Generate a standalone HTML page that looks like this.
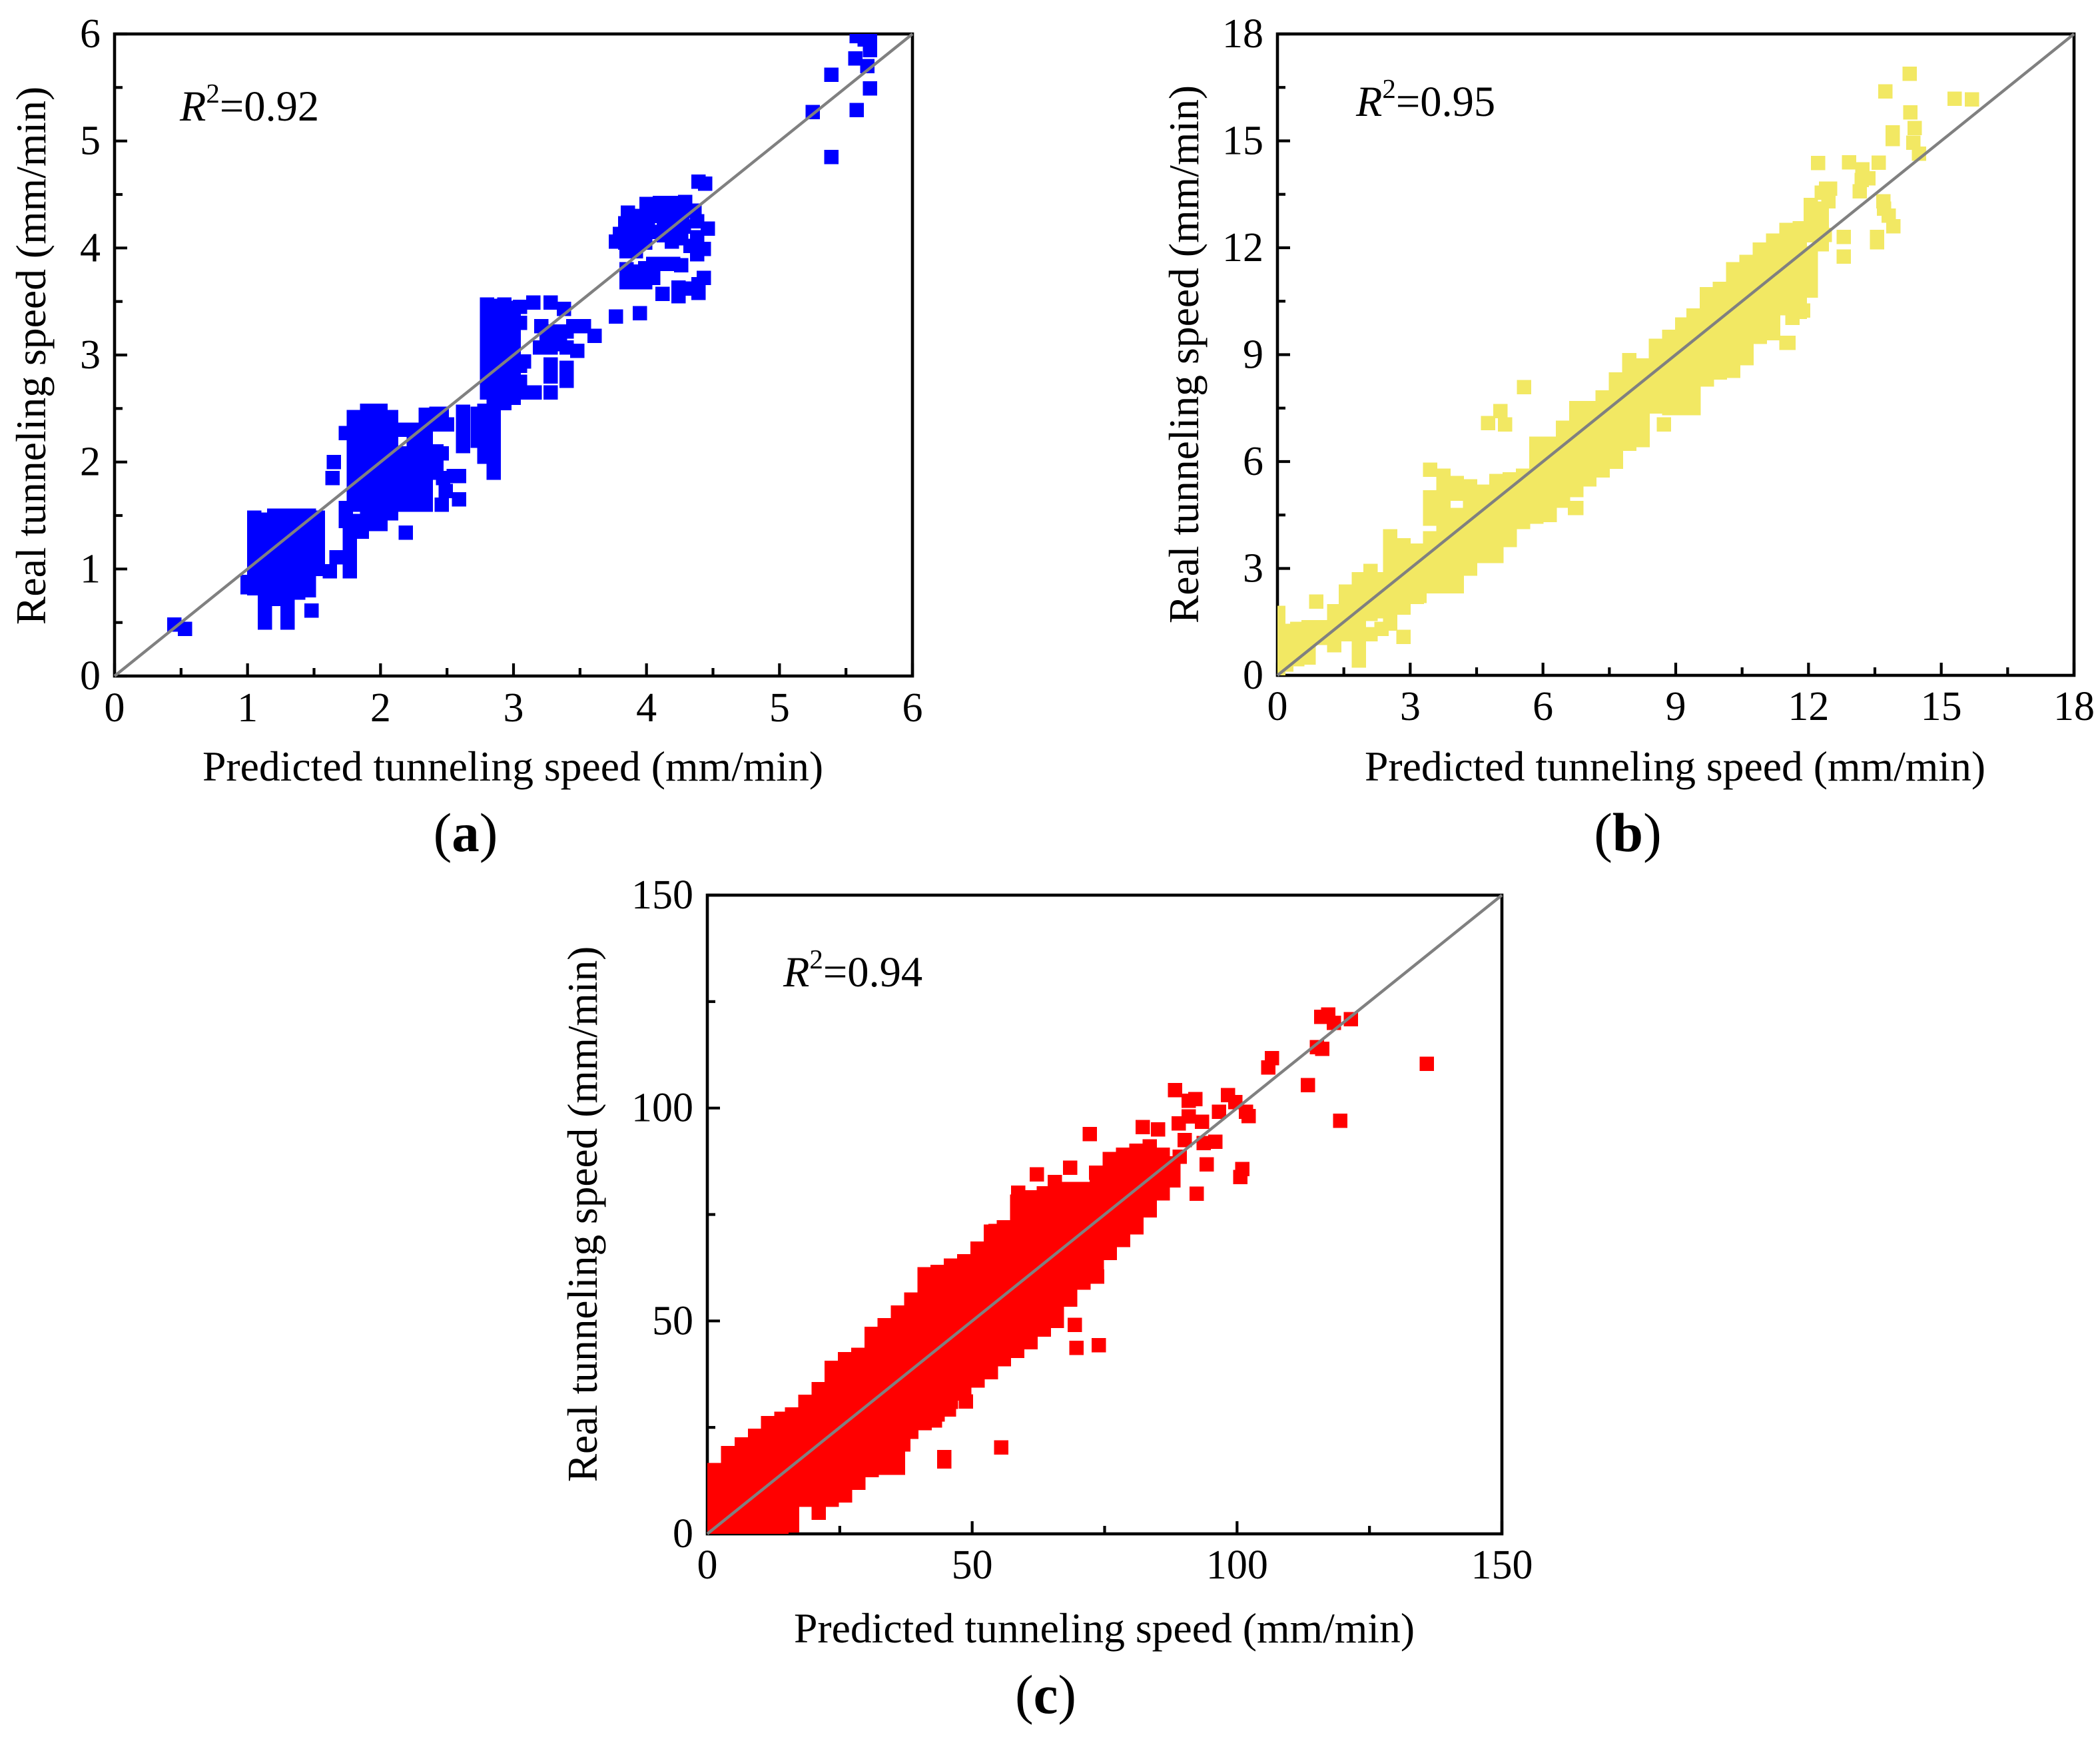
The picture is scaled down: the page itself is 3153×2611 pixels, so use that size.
<!DOCTYPE html>
<html lang="en">
<head>
<meta charset="utf-8">
<title>Predicted vs real tunneling speed</title>
<style>
html,body{margin:0;padding:0;background:#fff}
svg{display:block}
text{font-family:"Liberation Serif","Times New Roman",serif;fill:#000}
</style>
</head>
<body>
<svg xmlns="http://www.w3.org/2000/svg" width="3153" height="2611" viewBox="0 0 3153 2611">
<rect x="0" y="0" width="3153" height="2611" fill="#fff"/>
<defs>
<clipPath id="clip-a"><rect x="172" y="51" width="1198" height="964"/></clipPath>
<clipPath id="clip-b"><rect x="1918" y="51" width="1196" height="963"/></clipPath>
<clipPath id="clip-c"><rect x="1062" y="1344" width="1193" height="959"/></clipPath>
</defs>

<g id="panel-a"></g>
<g id="panel-b"></g>
<g id="panel-c"></g>

<text x="68" y="534" font-size="63.7" text-anchor="middle" transform="rotate(-90 68 534)">Real tunneling speed (mm/min)</text>
<text x="770" y="1172" font-size="63.7" text-anchor="middle">Predicted tunneling speed (mm/min)</text>
<text x="270" y="181" font-size="64.5"><tspan font-style="italic">R</tspan><tspan dy="-27" font-size="41">2</tspan><tspan dy="27">=0.92</tspan></text>
<text x="699" y="1278" font-size="83" text-anchor="middle">(<tspan font-weight="bold">a</tspan>)</text>

<text x="1799" y="532" font-size="63.7" text-anchor="middle" transform="rotate(-90 1799 532)">Real tunneling speed (mm/min)</text>
<text x="2515" y="1172" font-size="63.7" text-anchor="middle">Predicted tunneling speed (mm/min)</text>
<text x="2036" y="174" font-size="64.5"><tspan font-style="italic">R</tspan><tspan dy="-27" font-size="41">2</tspan><tspan dy="27">=0.95</tspan></text>
<text x="2444" y="1278" font-size="83" text-anchor="middle">(<tspan font-weight="bold">b</tspan>)</text>

<text x="896" y="1823" font-size="63.4" text-anchor="middle" transform="rotate(-90 896 1823)">Real tunneling speed (mm/min)</text>
<text x="1658" y="2466" font-size="63.7" text-anchor="middle">Predicted tunneling speed (mm/min)</text>
<text x="1176" y="1481" font-size="64.5"><tspan font-style="italic">R</tspan><tspan dy="-27" font-size="41">2</tspan><tspan dy="27">=0.94</tspan></text>
<text x="1570" y="2572" font-size="83" text-anchor="middle">(<tspan font-weight="bold">c</tspan>)</text>
</svg>

<script>
// ---------- Panel (a): tick values ----------
const majorTicksA = [0, 1, 2, 3, 4, 5, 6];
const minorTicksA = [0.5, 1.5, 2.5, 3.5, 4.5, 5.5];
const domainA = [0, 6];
const fitLineA = [0, 6];
// Panel (a): clusters, as [predicted, [real, real, ...]]
const columnsA = [
  [1.0,[0.83,0.88]],
  [1.05,[0.82,0.95,1.07,1.19,1.31,1.43,1.48]],
  [1.13,[0.5,0.62,0.74,0.86,0.98,1.1,1.22,1.34,1.46]],
  [1.2,[0.72,0.84,0.96,1.08,1.2,1.32,1.44,1.5]],
  [1.3,[0.5,0.62,0.74,0.86,0.98,1.1,1.22,1.34,1.46,1.5]],
  [1.38,[0.78,0.9,1.02,1.14,1.26,1.38,1.5]],
  [1.46,[0.8,0.92,1.04,1.16,1.28,1.4,1.5]],
  [1.53,[1.0,1.12,1.24,1.36,1.48]],
  [1.74,[1.45,1.57,2.27]],
  [1.77,[0.98,1.08,1.2,1.32]],
  [1.8,[1.45,1.6,1.7,1.82,1.94,2.06,2.18,2.3,2.42]],
  [1.86,[1.35]],
  [1.9,[1.42,1.54,1.66,1.78,1.9,2.02,2.14,2.26,2.38,2.48]],
  [2.0,[1.42,1.54,1.66,1.78,1.9,2.02,2.14,2.26,2.38,2.48]],
  [2.08,[1.52,1.64,1.76,1.88,2.0,2.12,2.24,2.36,2.42]],
  [2.16,[1.6,1.72,1.84,1.96,2.08,2.3]],
  [2.25,[1.6,1.72,1.84,1.96,2.08,2.2,2.3]],
  [2.34,[1.6,1.72,1.84,1.96,2.08,2.2,2.32,2.44]],
  [2.42,[1.9,2.02,2.1,2.35,2.45]],
  [2.62,[2.15,2.28,2.4,2.47]],
  [2.73,[2.2,2.32,2.45]],
  [2.78,[2.05,2.17,2.29,2.41,2.48]],
  [2.8,[2.65,2.77,2.9,3.02,3.14,3.25,3.37,3.47]],
  [2.85,[1.9,2.02,2.14,2.26,2.38,2.5,2.62,2.74,2.86,2.98,3.1,3.22,3.34,3.46]],
  [2.93,[2.55,2.67,2.79,2.91,3.03,3.15,3.27,3.39,3.47]],
  [3.0,[2.6,2.72,2.84,2.96,3.08,3.2,3.32,3.44]],
  [3.05,[2.65,2.75,2.9,3.3,3.45]]
];
const scatterA = [
  [0.45,0.48],[0.53,0.44],[1.48,0.61],[1.62,0.98],[1.65,2.0],[1.64,1.85],[1.67,1.11],[2.19,1.34],
  [2.46,1.6],[2.49,1.73],[2.59,1.65],[2.47,1.85],[2.55,1.87],[2.59,1.87],[2.46,2.08],[2.5,2.35],[2.46,2.45],
  [3.08,2.94],[3.15,3.49],[3.13,2.65],[3.28,3.49],[3.38,3.43],[3.21,3.27],[3.31,3.22],[3.4,3.22],[3.2,3.07],
  [3.28,3.07],[3.4,3.07],[3.48,3.04],[3.53,3.27],[3.45,3.27],[3.61,3.18],[3.28,2.91],[3.28,2.8],[3.28,2.65],
  [3.4,2.76],[3.4,2.88],[3.25,3.2],[3.35,3.1],[3.16,2.65],
  [3.77,3.36],[3.95,3.39],[4.12,3.57],[4.24,3.63],[4.24,3.55],[4.39,3.66],[4.39,3.58],[4.43,3.72],
  [3.85,3.68],[3.92,3.68],[3.99,3.68],[3.99,3.81],[3.92,3.78],[4.12,3.85],[4.2,3.85],[4.26,3.84],
  [3.88,3.75],[3.95,3.75],[4.05,3.72],[4.05,3.85],[3.85,3.8],
  [4.38,3.94],[4.43,3.99],[3.77,4.06],[3.84,4.23],[3.84,4.05],[3.93,4.05],[3.93,4.2],[3.86,4.33],[3.85,3.97],
  [3.99,4.05],[4.01,4.19],[4.0,4.41],[4.0,4.3],[4.13,4.38],[4.13,4.25],[4.21,4.3],[4.29,4.43],[4.19,4.06],
  [3.85,4.12],[3.92,4.12],[3.92,4.3],[3.99,4.12],[3.99,4.25],[4.07,4.15],[4.07,4.3],[3.8,4.13],[3.92,3.97],
  [4.1,4.42],[4.2,4.42],[4.2,4.18],[4.27,4.3],[4.13,4.12],[4.26,4.2],[4.33,4.02],[4.36,4.35],[4.3,3.62],
  [4.26,4.09],[4.28,4.2],[4.38,4.1],[4.38,4.25],[4.46,4.18],[4.39,4.62],[4.44,4.6],
  [5.39,5.62],[5.25,5.27],[5.39,4.85],[5.58,5.29],[5.68,5.49],[5.57,5.77],[5.66,5.7],[5.68,5.85],[5.68,5.94],[5.58,5.98],[5.64,5.95]
];

// ---------- Panel (b): tick values ----------
const majorTicksB = [0, 3, 6, 9, 12, 15, 18];
const minorTicksB = [1.5, 4.5, 7.5, 10.5, 13.5, 16.5];
const domainB = [0, 18];
const fitLineB = [0, 18];
const columnsB = [
  [0.02,[0.2,0.5,0.85,1.2,1.5,1.75]],
  [0.2,[0.3,0.65,1.0,1.25]],
  [0.45,[0.45,0.8,1.15,1.3]],
  [0.7,[0.5,0.85,1.2,1.35]],
  [1.0,[1.05,1.35]],
  [1.28,[0.85,1.15,1.45,1.8]],
  [1.55,[1.15,1.5,1.85,2.2,2.35]],
  [1.84,[0.42,0.75,1.1,1.45,1.8,2.15,2.5,2.7]],
  [2.1,[1.15,1.72,2.05,2.4,2.75,2.93]],
  [2.35,[1.3,1.8,2.1,2.45,2.7]],
  [2.55,[1.45,1.8,2.15,2.5,2.85,3.2,3.55,3.9]],
  [2.85,[1.08,1.9,2.25,2.6,2.95,3.3,3.65]],
  [3.15,[2.2,2.55,2.9,3.25,3.5]],
  [3.45,[2.5,2.85,3.2,3.55,3.85,4.4,4.75,5.0,5.77]],
  [3.75,[2.5,2.85,3.2,3.55,3.9,4.25,4.6,5.0,5.35,5.6]],
  [4.05,[2.5,2.85,3.2,3.55,3.9,4.25,4.5,5.1,5.4]],
  [4.35,[3.0,3.3,3.65,4.0,4.35,4.6,5.0,5.3]],
  [4.65,[3.35,3.7,4.05,4.4,4.75,5.15]],
  [4.95,[3.35,3.7,4.05,4.4,4.75,5.1,5.45]],
  [5.25,[3.8,4.15,4.5,4.85,5.2,5.5]],
  [5.55,[4.3,4.65,5.0,5.35,5.6]],
  [5.85,[4.45,4.8,5.15,5.5,5.85,6.2,6.5]],
  [6.15,[4.5,4.85,5.2,5.55,5.9,6.25,6.5]],
  [6.45,[4.9,5.25,5.6,5.95,6.3,6.65,6.95]],
  [6.75,[4.7,5.2,5.55,5.9,6.25,6.6,6.95,7.3,7.5]],
  [7.05,[5.5,5.85,6.2,6.55,6.9,7.25,7.5]],
  [7.35,[5.75,6.1,6.45,6.8,7.15,7.5,7.8]],
  [7.65,[6.0,6.35,6.7,7.05,7.4,7.75,8.1,8.3]],
  [7.95,[6.5,6.85,7.2,7.55,7.9,8.25,8.6,8.85]],
  [8.25,[6.6,6.95,7.3,7.65,8.0,8.35,8.7]],
  [8.55,[7.55,7.9,8.25,8.6,8.95,9.25]],
  [8.85,[7.5,7.85,8.2,8.55,8.9,9.25,9.5]],
  [9.15,[7.5,7.85,8.2,8.55,8.9,9.25,9.6,9.85]],
  [9.4,[7.5,7.85,8.1,8.5,8.85,9.2,9.55,9.9,10.1]],
  [9.7,[8.3,8.65,9.0,9.35,9.7,10.05,10.4,10.7]],
  [10.0,[8.5,8.85,9.2,9.55,9.9,10.25,10.6,10.85]],
  [10.3,[8.55,8.9,9.25,9.6,9.95,10.3,10.65,11.0,11.4]],
  [10.6,[8.9,9.25,9.6,9.95,10.3,10.65,11.0,11.35,11.6]],
  [10.9,[9.5,9.85,10.2,10.55,10.9,11.25,11.6,11.95]],
  [11.2,[9.6,9.95,10.3,10.65,11.0,11.35,11.7,12.05,12.2]],
  [11.5,[9.33,10.3,10.65,11.0,11.35,11.7,12.05,12.4,12.5]],
  [11.8,[10.2,10.55,10.9,11.25,11.6,11.95,12.3,12.55]],
  [12.05,[10.8,11.15,11.5,11.85,12.35,12.7,13.05,13.2]],
  [12.3,[12.1,12.4,12.75,13.1,13.55]]
];
const scatterB = [
  [0.88,2.07],[0.59,0.52],[3.21,2.23],[6.72,4.7],[5.57,8.09],[5.04,7.42],[4.76,7.08],[5.14,7.04],[8.73,7.04],[11.55,9.33],
  [11.64,10.03],[11.88,10.24],[12.4,13.66],[12.49,13.66],[12.45,13.3],[12.22,14.38],[12.92,14.4],[13.59,14.39],
  [13.22,14.2],[13.35,13.95],[13.16,13.58],[13.2,13.9],[13.69,13.3],[13.71,13.1],[13.81,12.9],[13.92,12.6],[13.55,12.3],[13.55,12.15],
  [12.8,12.3],[12.8,11.75],[12.37,12.36],[12.25,12.1],[14.29,16.88],[13.74,16.39],[15.3,16.18],[15.69,16.16],[14.3,15.8],
  [14.4,15.36],[13.9,15.24],[13.9,15.05],[14.37,14.95],[14.5,14.64]
];

// ---------- Panel (c): tick values ----------
const majorTicksC = [0, 50, 100, 150];
const minorTicksC = [25, 75, 125];
const domainC = [0, 150];
const fitLineC = [0, 150];
const columnsC = [
  [1.3,[1,4,7,10,13,15]],
  [3.9,[1,4,7,10,13,16,19]],
  [6.5,[1,4,7,10,13,16,19,21]],
  [9,[1,4,7,10,13,16,19,22,23]],
  [11.5,[1,4,7,10,13,16,19,22,25,26]],
  [14,[1,4,7,10,13,16,19,22,25,27]],
  [16,[2,5,8,11,14,17,20,23,26,28]],
  [18.5,[8,11,14,17,20,23,26,29,31]],
  [21,[5,8,11,14,17,20,23,26,29,32,34]],
  [23.5,[8,11,14,17,20,23,26,29,32,35,38,39]],
  [26,[9,12,15,18,21,24,27,30,33,36,39,41]],
  [28.5,[12,15,18,21,24,27,30,33,36,39,42]],
  [31,[15,18,21,24,27,30,33,36,39,42,45,47]],
  [33.5,[15.5,18.5,21.5,24.5,27.5,30.5,33.5,36.5,39.5,42.5,45.5,48.5,49]],
  [36,[15.5,18.5,21.5,24.5,27.5,30.5,33.5,36.5,39.5,42.5,45.5,48.5,51.5,52]],
  [38.5,[24,27,30,33,36,39,42,45,48,51,54,55]],
  [41,[26,29,32,35,38,41,44,47,50,53,56,59,61]],
  [43.5,[28,31,34,37,40,43,46,49,52,55,58,61,61.5]],
  [46,[31,34,37,40,43,46,49,52,55,58,61,63]],
  [48.5,[33,36,39,42,45,48,51,54,57,60,63,64]],
  [51,[36,39,42,45,48,51,54,57,60,63,66,67]],
  [53.5,[38,41,44,47,50,53,56,59,62,65,68,71]],
  [56,[41,44,47,50,53,56,59,62,65,68,71,72]],
  [58.5,[43,46,49,52,55,58,61,64,67,70,73,76,78]],
  [61,[45,48,51,54,57,60,63,66,69,72,75,78,79]],
  [63.5,[48,51,54,57,60,63,66,69,72,75,78,80]],
  [66,[50,53,56,59,62,65,68,71,74,77,80,81]],
  [68.5,[55,58,61,64,67,70,73,76,79,81]],
  [71,[59,62,65,68,71,74,77,80,81]],
  [73.5,[62,65,68,71,74,77,80,83]],
  [76,[66,69,72,75,78,81,84,87,88]],
  [78.5,[69,72,75,78,81,84,87,89]],
  [81,[72,75,78,81,84,87,90]],
  [83.5,[76,79,82,85,88,91]],
  [86,[80,83,86,89]],
  [88,[83,85,87]]
];
const scatterC = [
  [135.8,110.4],[121.5,120.9],[117.2,122],[115.9,121.4],[118.3,120],[115.1,114.3],[116.1,113.9],[106.6,111.7],[105.9,109.5],
  [113.4,105.4],[119.5,97],[88.3,104.2],[90.9,101.7],[92.1,102.1],[98.3,103],[99.7,101.4],[96.6,99.1],[101.7,99.1],[102.2,98.1],
  [90.9,98],[93.4,96.8],[89,96.4],[82.2,95.5],[85.1,95],[72.2,93.9],[95.9,92.1],[93.7,91.8],[90.1,92.5],[89.2,88.6],[94.3,86.8],
  [101,85.7],[100.6,83.8],[92.4,79.9],[68.5,86],[73.4,84.8],[62.2,84.4],[65.6,82.6],[58.7,80.1],[60.8,77.9],[54.4,71.1],[57.3,71.1],
  [73.6,60.4],[48.8,31.1],[45.6,29.2],[43,26.6],[37,21],[44.7,18],[44.7,17],[55.5,20.3],[69.4,49.1],[69.7,43.7],[73.9,44.3]
];

// ---------- Drawing ----------
const SVG_NS = 'http://www.w3.org/2000/svg';
function make(tag, attrs, parent) {
  const el = document.createElementNS(SVG_NS, tag);
  for (const k in attrs) el.setAttribute(k, attrs[k]);
  parent.appendChild(el);
  return el;
}
function drawPanel(p) {
  const root = document.getElementById(p.id);
  const xScale = v => p.left + (v - p.domain[0]) / (p.domain[1] - p.domain[0]) * (p.right - p.left);
  const yScale = v => p.bottom - (v - p.domain[0]) / (p.domain[1] - p.domain[0]) * (p.bottom - p.top);

  const frame = make('rect', {x: p.left, y: p.top, width: p.right - p.left, height: p.bottom - p.top, fill: 'none', stroke: '#000', 'stroke-width': 4.6}, root);
  
  

  function tick(v, len, name) {
    const tx = make('line', {x1: xScale(v), x2: xScale(v), y1: p.bottom, y2: p.bottom - len, stroke: '#000', 'stroke-width': 4.2}, root);
    
    
    const ty = make('line', {x1: p.left, x2: p.left + len, y1: yScale(v), y2: yScale(v), stroke: '#000', 'stroke-width': 4.2}, root);
    
    
  }
  p.major.forEach(v => {
    tick(v, 19, 'major-tick');
    const lx = make('text', {x: xScale(v), y: p.bottom + p.xLabelGap, 'font-size': 62, 'text-anchor': 'middle'}, root);
    lx.textContent = String(v);
    
    
    const ly = make('text', {x: p.left - 21, y: yScale(v) + 20, 'font-size': 62, 'text-anchor': 'end'}, root);
    ly.textContent = String(v);
    
    
  });
  p.minor.forEach(v => tick(v, 12, 'minor-tick'));

  const marks = make('g', {'clip-path': 'url(#' + p.clip + ')', fill: p.color, 'shape-rendering': 'crispEdges'}, root);
  
  
  function point(px, py) {
    const s = make('rect', {x: xScale(px) - p.size / 2, y: yScale(py) - p.size / 2, width: p.size, height: p.size}, marks);
    
    
  }
  p.columns.forEach(c => c[1].forEach(y => point(c[0], y)));
  p.scatter.forEach(c => point(c[0], c[1]));

  const fit = make('line', {x1: xScale(p.line[0]), y1: yScale(p.line[0]), x2: xScale(p.line[1]), y2: yScale(p.line[1]), stroke: '#808080', 'stroke-width': 4.4}, root);
  
  
}

drawPanel({id: 'panel-a', clip: 'clip-a', left: 172, right: 1370, top: 51, bottom: 1015, xLabelGap: 68, size: 21.5, color: '#0000ff',
  domain: domainA, major: majorTicksA, minor: minorTicksA, columns: columnsA, scatter: scatterA, line: fitLineA});
drawPanel({id: 'panel-b', clip: 'clip-b', left: 1918, right: 3114, top: 51, bottom: 1014, xLabelGap: 67, size: 21.5, color: '#f2e863',
  domain: domainB, major: majorTicksB, minor: minorTicksB, columns: columnsB, scatter: scatterB, line: fitLineB});
drawPanel({id: 'panel-c', clip: 'clip-c', left: 1062, right: 2255, top: 1344, bottom: 2303, xLabelGap: 67, size: 21.5, color: '#ff0000',
  domain: domainC, major: majorTicksC, minor: minorTicksC, columns: columnsC, scatter: scatterC, line: fitLineC});
</script>
</body>
</html>
